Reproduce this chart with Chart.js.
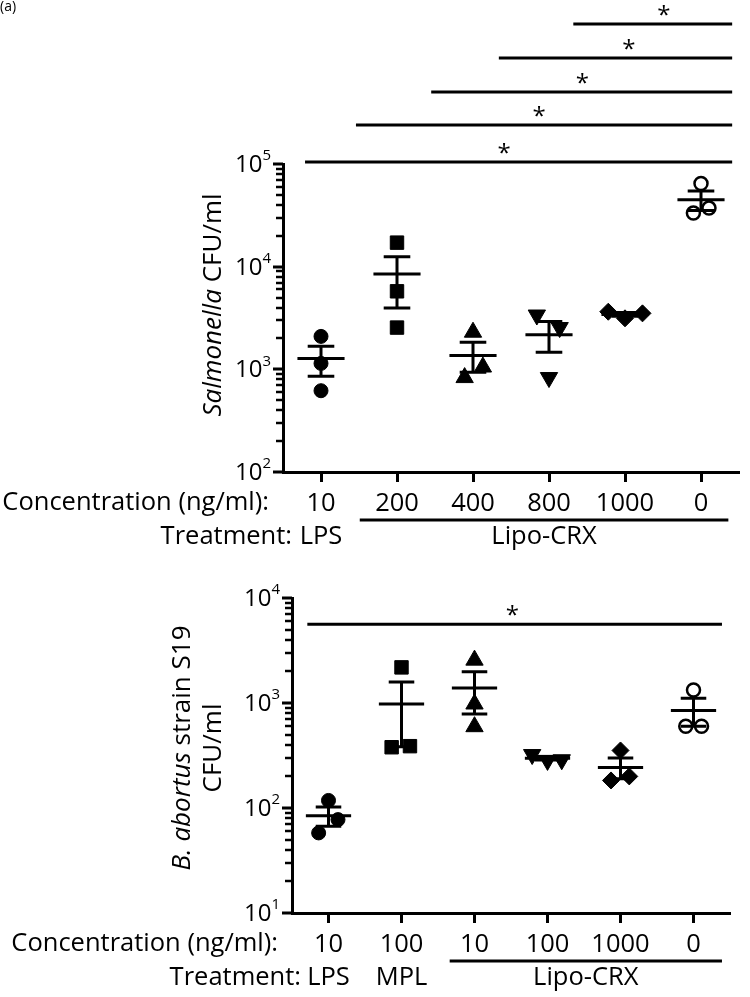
<!DOCTYPE html>
<html>
<head>
<meta charset="utf-8">
<script src="https://cdn.jsdelivr.net/npm/chart.js@4.4.1/dist/chart.umd.min.js"></script>
<style>
  body { margin: 0; background: #fff; width: 750px; height: 997px; position: relative; overflow: hidden; }
  .panel { position: absolute; left: 0; width: 750px; }
</style>
</head>
<body>
<div class="panel" style="top:0;height:560px"><canvas id="topChart" width="750" height="560"></canvas></div>
<div class="panel" style="top:560px;height:437px"><canvas id="bottomChart" width="750" height="437"></canvas></div>
<script>
// ---- top panel: Salmonella ----
const topConc = ["10", "200", "400", "800", "1000", "0"];
const topGroups = ["LPS", "Lipo-CRX"];
const topGroupFrom = [0, 0.51];
const topGroupTo = [0, 5.36];
const topGroupLine = [false, true];
const topExp = [2, 3, 4, 5];
const topValues = [
  [2094, 1142, 619],
  [17140, 5754, 2551],
  [2300, 1053, 831],
  [3381, 2553, 832],
  [3640, 3140, 3510],
  [64700, 33270, 37200]
];
const topJitter = [
  [0, 0, 0],
  [0, 0, 0],
  [0, 0.13, -0.11],
  [-0.16, 0.14, 0],
  [-0.22, 0, 0.23],
  [0, -0.1, 0.105]
];
const topMean = [1276, 8490, 1365, 2172, 3430, 44770];
const topUpper = [1676, 12500, 1832, 2918, 3580, 54600];
const topLower = [857, 3950, 938, 1468, 3280, 35200];
const topSigFrom = [-0.21, 0.46, 1.45, 2.34, 3.32];
const topSigTo = [5.41, 5.41, 5.41, 5.41, 5.41];
const topSigY = [104500, 240000, 502000, 1076000, 2307000];
const topStarX = [2.41, 2.87, 3.44, 4.05, 4.51];

// ---- bottom panel: B. abortus ----
const botConc = ["10", "100", "10", "100", "1000", "0"];
const botGroups = ["LPS", "MPL", "Lipo-CRX"];
const botGroupFrom = [0, 1, 1.66];
const botGroupTo = [0, 1, 5.39];
const botGroupLine = [false, false, true];
const botExp = [1, 2, 3, 4];
const botValues = [
  [118, 77.5, 57.9],
  [2184, 379, 388],
  [2560, 978, 595],
  [323, 284, 288],
  [353, 183, 200],
  [1328, 600, 600]
];
const botJitter = [
  [0, 0.13, -0.135],
  [0, -0.135, 0.116],
  [0, 0, 0],
  [-0.21, 0, 0.195],
  [0, -0.13, 0.12],
  [0, -0.106, 0.11]
];
const botMean = [84.5, 980, 1388, 298, 243, 850];
const botUpper = [102, 1584, 1983, 310, 300, 1110];
const botLower = [67, 384, 787, 286, 190, 600];
const botSigFrom = [-0.29];
const botSigTo = [5.39];
const botSigY = [5620];
const botStarX = [2.52];

const FONT = "'Open Sans', sans-serif";
const shapes = ["circle", "rect", "triangle", "triangle", "rectRot", "circle"];
const shapeRot = [0, 0, 0, 180, 0, 0];
const shapeRadius = [7, 9.5, 10, 10, 8.5, 6.5];
const shapeFill = ["#000", "#000", "#000", "#000", "#000", "#fff"];

const panelText = {
  id: "panelText",
  afterDraw(chart, args, o) {
    const ctx = chart.ctx;
    const x = chart.scales.x, y = chart.scales.y, area = chart.chartArea;
    ctx.save();
    ctx.fillStyle = "#000";
    ctx.strokeStyle = "#000";

    // y tick marks: long for decades, short for 2..9
    y.ticks.forEach(t => {
      const py = Math.round(y.getPixelForValue(t.value));
      ctx.lineWidth = t.major ? 3 : 2.5;
      ctx.beginPath();
      ctx.moveTo(area.left - (t.major ? 10 : 7), py);
      ctx.lineTo(area.left, py);
      ctx.stroke();
    });

    // decade labels: "10" with superscript exponent
    y.ticks.filter(t => t.major).forEach(t => {
      const py = y.getPixelForValue(t.value);
      const e = String(Math.round(Math.log10(t.value)));
      const right = area.left - 12;
      ctx.textAlign = "right";
      ctx.textBaseline = "middle";
      ctx.font = "15px " + FONT;
      const ew = ctx.measureText(e).width;
      ctx.fillText(e, right, py - 8);
      ctx.font = "24px " + FONT;
      ctx.fillText("10", right - ew, py + 1);
    });

    // row captions and treatment groups
    const axisY = area.bottom;
    ctx.font = "25.5px " + FONT;
    ctx.textBaseline = "middle";
    ctx.textAlign = "right";
    ctx.fillText("Concentration (ng/ml):", area.left - 14, axisY + 31);
    ctx.fillText("Treatment:", area.left + 9, axisY + 65);
    ctx.textAlign = "center";
    o.groups.forEach((g, k) => {
      const x0 = x.getPixelForValue(o.groupFrom[k]);
      const x1 = x.getPixelForValue(o.groupTo[k]);
      ctx.fillText(g, (x0 + x1) / 2, axisY + 65);
      if (o.groupLine[k]) {
        ctx.lineWidth = 3;
        ctx.beginPath();
        ctx.moveTo(x0, axisY + 48);
        ctx.lineTo(x1, axisY + 48);
        ctx.stroke();
      }
    });

    // significance stars
    ctx.textBaseline = "alphabetic";
    ctx.font = "24px " + FONT;
    o.starX.forEach((sx, k) => {
      ctx.fillText("*", x.getPixelForValue(sx), y.getPixelForValue(o.sigY[k]) - 1);
    });

    // rotated y-axis title, segments [text, italic]
    o.title.forEach((segs, li) => {
      ctx.save();
      ctx.translate(o.titleX[li], o.titleY);
      ctx.rotate(-Math.PI / 2);
      let total = 0;
      const widths = segs.map(s => {
        ctx.font = (s[1] ? "italic " : "") + "26px " + FONT;
        const w = ctx.measureText(s[0]).width;
        total += w;
        return w;
      });
      let cx = -total / 2;
      ctx.textAlign = "left";
      ctx.textBaseline = "middle";
      segs.forEach((s, k) => {
        ctx.font = (s[1] ? "italic " : "") + "26px " + FONT;
        ctx.fillText(s[0], cx, 0);
        cx += widths[k];
      });
      ctx.restore();
    });

    if (o.tag) {
      ctx.font = "14px " + FONT;
      ctx.textAlign = "left";
      ctx.textBaseline = "top";
      ctx.fillText(o.tag, 0, 0);
    }
    ctx.restore();
  }
};

function buildChart(id, p) {
  const n = p.conc.length;
  const meanPts = [], capPts = [], stemPts = [], sigPts = [];
  p.mean.forEach((m, i) => {
    meanPts.push({ x: i - 0.31, y: m }, { x: i + 0.31, y: m }, { x: i, y: null });
    capPts.push({ x: i - 0.175, y: p.upper[i] }, { x: i + 0.175, y: p.upper[i] }, { x: i, y: null },
                { x: i - 0.175, y: p.lower[i] }, { x: i + 0.175, y: p.lower[i] }, { x: i, y: null });
    stemPts.push({ x: i, y: p.lower[i] }, { x: i, y: p.upper[i] }, { x: i, y: null });
  });
  p.sigY.forEach((sy, k) => {
    sigPts.push({ x: p.sigFrom[k], y: sy }, { x: p.sigTo[k], y: sy }, { x: p.sigTo[k], y: null });
  });
  const lineSet = data => ({
    data, showLine: true, pointRadius: 0, borderColor: "#000", borderWidth: 3,
    spanGaps: false, clip: false, borderCapStyle: "butt"
  });
  const datasets = [lineSet(meanPts), lineSet(capPts), lineSet(stemPts), lineSet(sigPts)];
  p.values.forEach((vals, i) => {
    datasets.push({
      data: vals.map((v, j) => ({ x: i + p.jitter[i][j], y: v })),
      pointStyle: shapes[i],
      pointRotation: shapeRot[i],
      pointRadius: shapeRadius[i],
      backgroundColor: shapeFill[i],
      borderColor: "#000",
      borderWidth: i === 5 ? 2.5 : 1,
      clip: false
    });
  });
  const yMin = Math.pow(10, p.exp[0]);
  const yMax = Math.pow(10, p.exp[p.exp.length - 1]);
  const yTicks = [];
  p.exp.forEach((e, k) => {
    yTicks.push({ value: Math.pow(10, e), major: true });
    if (k < p.exp.length - 1) {
      for (let m = 2; m <= 9; m++) yTicks.push({ value: m * Math.pow(10, e), major: false });
    }
  });

  return new Chart(document.getElementById(id), {
    type: "scatter",
    data: { datasets },
    options: {
      responsive: false,
      animation: false,
      layout: { padding: p.padding },
      plugins: {
        legend: { display: false },
        tooltip: { enabled: false },
        panelText: p.text
      },
      scales: {
        x: {
          type: "linear",
          min: -0.5,
          max: n - 0.5,
          afterBuildTicks: s => { s.ticks = p.conc.map((_, i) => ({ value: i })); },
          afterFit: s => { s.height = p.xHeight; },
          ticks: {
            callback: v => p.conc[v],
            font: { family: FONT, size: 25.5 },
            color: "#000",
            padding: 6,
            maxRotation: 0,
            autoSkip: false
          },
          grid: { drawOnChartArea: false, tickLength: 10, tickWidth: 3, tickColor: "#000" },
          border: { display: true, width: 3, color: "#000" }
        },
        y: {
          type: "logarithmic",
          position: "left",
          min: yMin,
          max: yMax,
          afterBuildTicks: s => { s.ticks = yTicks.map(t => ({ ...t })); },
          afterFit: s => { s.width = p.yWidth; },
          ticks: { display: false },
          grid: { drawOnChartArea: false, drawTicks: false },
          border: { display: true, width: 3, color: "#000" }
        }
      }
    },
    plugins: [panelText]
  });
}

buildChart("topChart", {
  conc: topConc, exp: topExp, values: topValues, jitter: topJitter,
  mean: topMean, upper: topUpper, lower: topLower,
  sigFrom: topSigFrom, sigTo: topSigTo, sigY: topSigY,
  padding: { top: 164, right: 2, left: 0, bottom: 0 },
  xHeight: 88, yWidth: 283,
  text: {
    groups: topGroups, groupFrom: topGroupFrom, groupTo: topGroupTo, groupLine: topGroupLine,
    starX: topStarX, sigY: topSigY,
    title: [[["Salmonella", true], [" CFU/ml", false]]],
    titleX: [214], titleY: 305,
    tag: "(a)"
  }
});

buildChart("bottomChart", {
  conc: botConc, exp: botExp, values: botValues, jitter: botJitter,
  mean: botMean, upper: botUpper, lower: botLower,
  sigFrom: botSigFrom, sigTo: botSigTo, sigY: botSigY,
  padding: { top: 38, right: 20, left: 0, bottom: 0 },
  xHeight: 84, yWidth: 292,
  text: {
    groups: botGroups, groupFrom: botGroupFrom, groupTo: botGroupTo, groupLine: botGroupLine,
    starX: botStarX, sigY: botSigY,
    title: [[["B. abortus", true], [" strain S19", false]], [["CFU/ml", false]]],
    titleX: [183, 214], titleY: 188,
    tag: ""
  }
});
</script>
</body>
</html>
